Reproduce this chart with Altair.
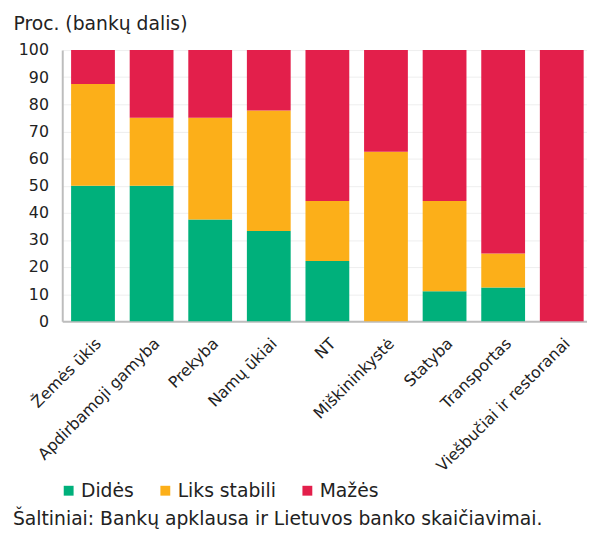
import altair as alt
import pandas as pd

categories = ["Žemės ūkis", "Apdirbamoji gamyba", "Prekyba", "Namų ūkiai", "NT",
              "Miškininkystė", "Statyba", "Transportas", "Viešbučiai ir restoranai"]
series = ["Didės", "Liks stabili", "Mažės"]
dides = [50.0, 50.0, 37.5, 33.3, 22.2, 0.0, 11.1, 12.5, 0.0]
liks_stabili = [37.5, 25.0, 37.5, 44.4, 22.2, 62.5, 33.3, 12.5, 0.0]
mazes = [12.5, 25.0, 25.0, 22.3, 55.6, 37.5, 55.6, 75.0, 100.0]
colors = ["#00b07b", "#fcaf19", "#e31f4b"]
y_ticks = list(range(0, 101, 10))
y_title = "Proc. (bankų dalis)"
footnote = "Šaltiniai: Bankų apklausa ir Lietuvos banko skaičiavimai."

rows = []
for si, (name, vals) in enumerate(zip(series, [dides, liks_stabili, mazes])):
    for c, v in zip(categories, vals):
        rows.append({"Sektorius": c, "Serija": name, "Reikšmė": v, "ord": si})
df = pd.DataFrame(rows)

FONT = "DejaVu Sans"
W, H = 532, 275

bars = alt.Chart(df).mark_bar().encode(
    x=alt.X("Sektorius:N", sort=categories,
            scale=alt.Scale(paddingInner=0.2525, paddingOuter=0.104, align=0.726),
            axis=alt.Axis(title=None, labelAngle=-45, ticks=False, labelPadding=14,
                          labelOffset=0, labelLimit=0,
                          labelFontSize=16, labelFont=FONT, labelColor="#222222",
                          domainColor="#bdbdbd", domainWidth=2, grid=False)),
    y=alt.Y("Reikšmė:Q", stack="zero",
            scale=alt.Scale(domain=[0, 100], nice=False),
            axis=alt.Axis(values=y_ticks, ticks=False, labelPadding=14,
                          labelFontSize=16, labelFont=FONT, labelColor="#222222",
                          domainColor="#bdbdbd", domainWidth=2,
                          gridColor="#eeeeee", gridWidth=1,
                          title=y_title, titleAngle=0, titleAlign="left",
                          titleBaseline="alphabetic", titleX=-50, titleY=-21,
                          titleFont=FONT, titleFontSize=19, titleFontWeight="normal",
                          titleColor="#222222")),
    color=alt.Color("Serija:N", sort=series,
                    scale=alt.Scale(domain=series, range=colors),
                    legend=alt.Legend(title=None, orient="none", legendX=-3, legendY=437,
                                      direction="horizontal", symbolType="square",
                                      symbolSize=100, symbolStrokeWidth=0,
                                      labelFont=FONT, labelFontSize=19,
                                      labelColor="#222222", columnPadding=22,
                                      labelOffset=3)),
    order=alt.Order("ord:Q"),
)

foot = alt.Chart(pd.DataFrame({"t": [footnote]})).mark_text(
    align="left", baseline="alphabetic", font=FONT, fontSize=19, color="#222222"
).encode(x=alt.value(-50), y=alt.value(H + 207), text="t:N")

chart = alt.layer(bars, foot).properties(
    width=W, height=H,
    autosize=alt.AutoSizeParams(type="none"),
    padding={"left": 55, "top": 39, "right": 0, "bottom": 213},
).configure_view(stroke=None)

chart.save("out.html", embed_options={"renderer": "svg", "actions": False})
